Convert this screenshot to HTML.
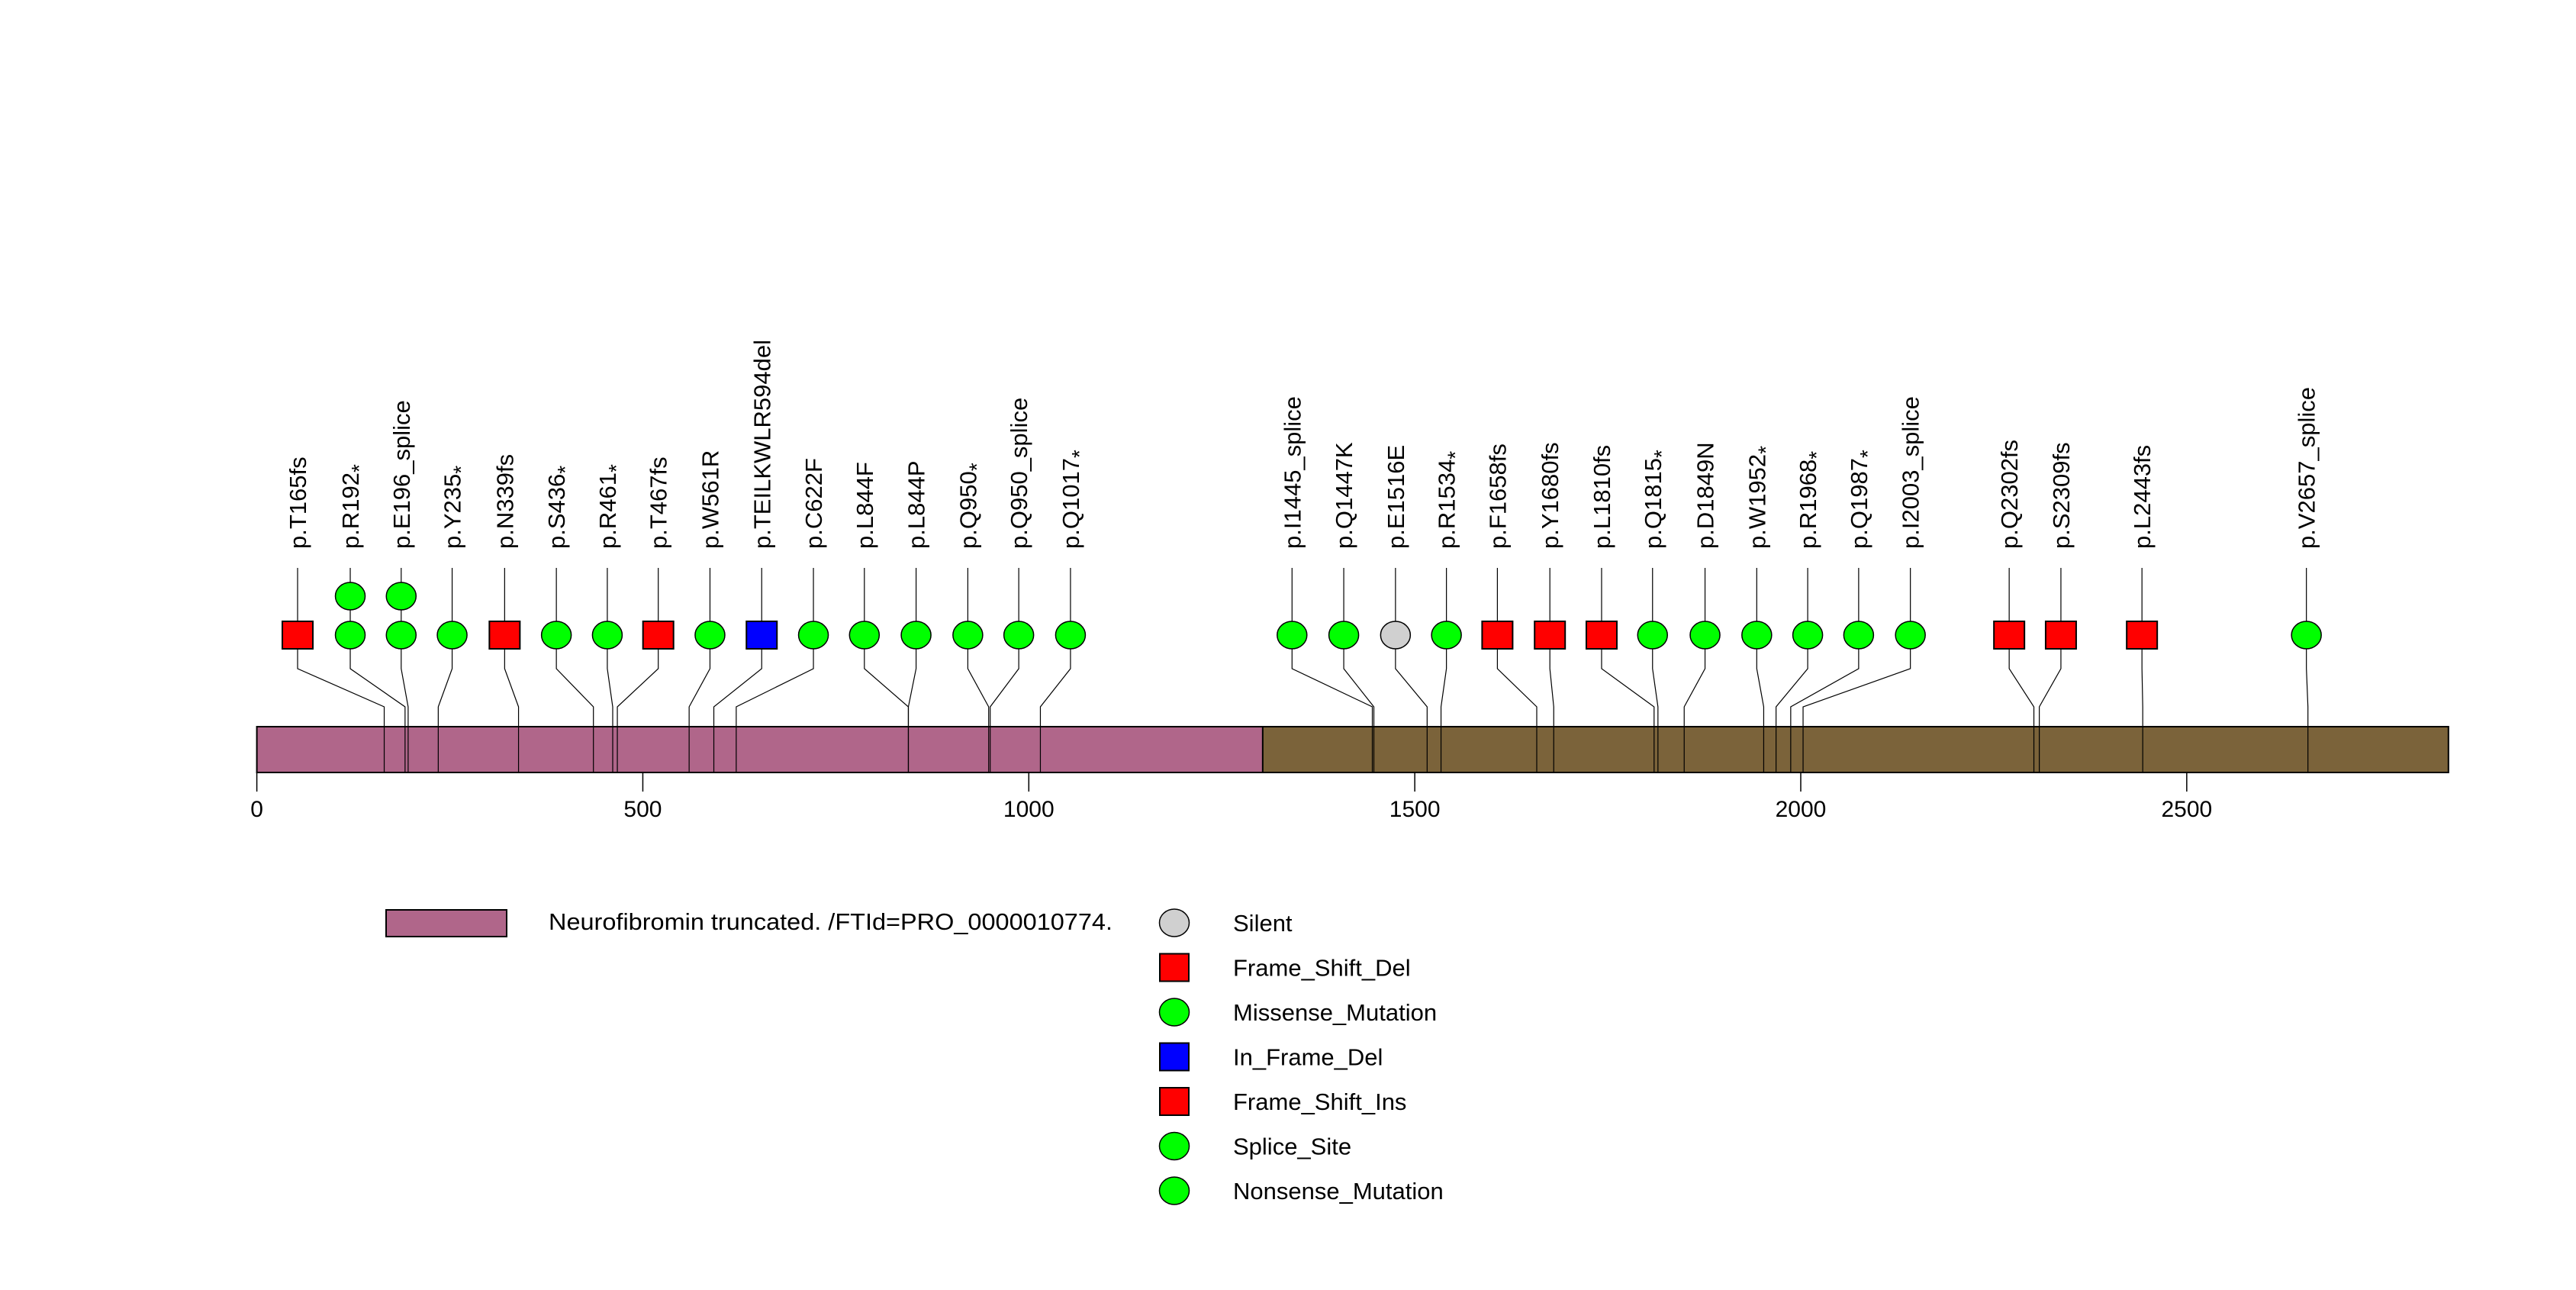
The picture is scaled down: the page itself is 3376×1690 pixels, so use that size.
<!DOCTYPE html>
<html><head><meta charset="utf-8"><style>html,body{margin:0;padding:0;background:#fff}svg{display:block}</style></head>
<body>
<svg id="chart" width="3376" height="1690" viewBox="0 0 3376 1690" xmlns="http://www.w3.org/2000/svg" font-family="Liberation Sans, Arial, sans-serif">
<rect width="3376" height="1690" fill="#fff"/>
<g id="domains"></g>
<g id="axis"></g>
<g id="muts"></g>
<g id="legend"></g>
</svg>
<script>
const proteinLength = 2839;
const domainStarts = [1, 1304];
const domainEnds = [1304, 2839];
const domainColors = ['#B0668A', '#7B633A'];
const tickValues = [0, 500, 1000, 1500, 2000, 2500];
const tickLabels = ['0', '500', '1000', '1500', '2000', '2500'];
const mutLabels = ['p.T165fs','p.R192*','p.E196_splice','p.Y235*','p.N339fs','p.S436*','p.R461*','p.T467fs','p.W561R','p.TEILKWLR594del','p.C622F','p.L844F','p.L844P','p.Q950*','p.Q950_splice','p.Q1017*','p.I1445_splice','p.Q1447K','p.E1516E','p.R1534*','p.F1658fs','p.Y1680fs','p.L1810fs','p.Q1815*','p.D1849N','p.W1952*','p.R1968*','p.Q1987*','p.I2003_splice','p.Q2302fs','p.S2309fs','p.L2443fs','p.V2657_splice'];
const mutPositions = [165,192,196,235,339,436,461,467,560,592,621,844,844,948,950,1015,1445,1447,1516,1534,1658,1680,1810,1815,1849,1952,1968,1987,2003,2302,2309,2443,2657];
const mutCounts = [1,2,2,1,1,1,1,1,1,1,1,1,1,1,1,1,1,1,1,1,1,1,1,1,1,1,1,1,1,1,1,1,1];
const mutTypes = ['fs','non','spl','non','fs','non','non','fs','mis','ifd','mis','mis','mis','non','spl','non','spl','mis','sil','non','fs','fs','fs','non','mis','non','non','non','spl','fs','fs','fs','spl'];
const slotPositions = [52.8,121,187,253,321,388,454,520,587,654,721,787,854,921,987,1054,1341,1408,1475,1541,1607,1675,1742,1808,1876,1943,2009,2075,2142,2270,2337,2442,2655];
const legendLabels = ['Silent','Frame_Shift_Del','Missense_Mutation','In_Frame_Del','Frame_Shift_Ins','Splice_Site','Nonsense_Mutation'];
const legendTypes = ['sil','fs','mis','ifd','fs','spl','non'];

const NS='http://www.w3.org/2000/svg';
const X0=336.6, SC=1.0117;
function x(v){return X0+v*SC;}
const barTop=952, barBot=1012, row1=832, rowStep=51;
const typeFill={fs:'#FF0000',non:'#00FF00',spl:'#00FF00',mis:'#00FF00',ifd:'#0000FF',sil:'#D0D0D0'};
const square={fs:1,ifd:1};
function el(tag,attrs,parent){const e=document.createElementNS(NS,tag);for(const k in attrs)e.setAttribute(k,attrs[k]);parent.appendChild(e);return e;}
function marker(type,cx,cy,parent){
  let m;
  if(square[type]) m=el('rect',{x:cx-20,y:cy-18,width:40,height:36,fill:typeFill[type],stroke:'#000','stroke-width':2},parent);
  else m=el('ellipse',{cx:cx,cy:cy,rx:19.5,ry:18,fill:typeFill[type],stroke:'#000','stroke-width':1.5},parent);
  return m;
}
const dom=document.getElementById('domains');
for(let i=0;i<domainStarts.length;i++){
  const r=el('rect',{x:x(domainStarts[i]-1),y:barTop,width:x(domainEnds[i])-x(domainStarts[i]-1),height:barBot-barTop,fill:domainColors[i],stroke:'#000','stroke-width':2},dom);
  
  
}
const ax=document.getElementById('axis');
for(let i=0;i<tickValues.length;i++){
  const t=el('line',{x1:x(tickValues[i]),x2:x(tickValues[i]),y1:barBot,y2:1037,stroke:'#000','stroke-width':1.5},ax);
  
  
  const l=el('text',{x:x(tickValues[i]),y:1070,'font-size':30,'text-anchor':'middle'},ax);
  l.textContent=tickLabels[i];
  
  
}
const mg=document.getElementById('muts');
for(let i=0;i<mutLabels.length;i++){
  const g=el('g',{},mg);
  
  
  const sx=x(slotPositions[i]), ax2=x(mutPositions[i]);
  el('polyline',{points:`${sx},744 ${sx},876 ${ax2},926 ${ax2},${barBot}`,fill:'none',stroke:'#000','stroke-width':1.2},g);
  for(let k=mutCounts[i]-1;k>=0;k--) marker(mutTypes[i],sx,row1-k*rowStep,g);
  const t=el('text',{transform:`translate(${sx+11},719) rotate(-90)`,'font-size':31},g);
  const lab=mutLabels[i];
  if(lab.endsWith('*')){
    t.textContent=lab.slice(0,-1);
    const s=el('tspan',{'font-size':28,dy:10},t); s.textContent='*';
  } else t.textContent=lab;
}
const lg=document.getElementById('legend');
const lr=el('rect',{x:506,y:1192,width:158,height:35,fill:domainColors[0],stroke:'#000','stroke-width':2},lg);


const lt=el('text',{x:719,y:1218,'font-size':31,textLength:739,lengthAdjust:'spacingAndGlyphs'},lg);
lt.textContent='Neurofibromin truncated. /FTId=PRO_0000010774.';


for(let i=0;i<legendLabels.length;i++){
  const g=el('g',{},lg);
  
  
  const cy=1209+i*58.5;
  const m=marker(legendTypes[i],1539,cy,g);
  if(square[legendTypes[i]]){m.setAttribute('x',1520);m.setAttribute('width',38);}
  const t=el('text',{x:1616,y:cy+11,'font-size':31},g);
  t.textContent=legendLabels[i];
}
</script>
</body></html>
